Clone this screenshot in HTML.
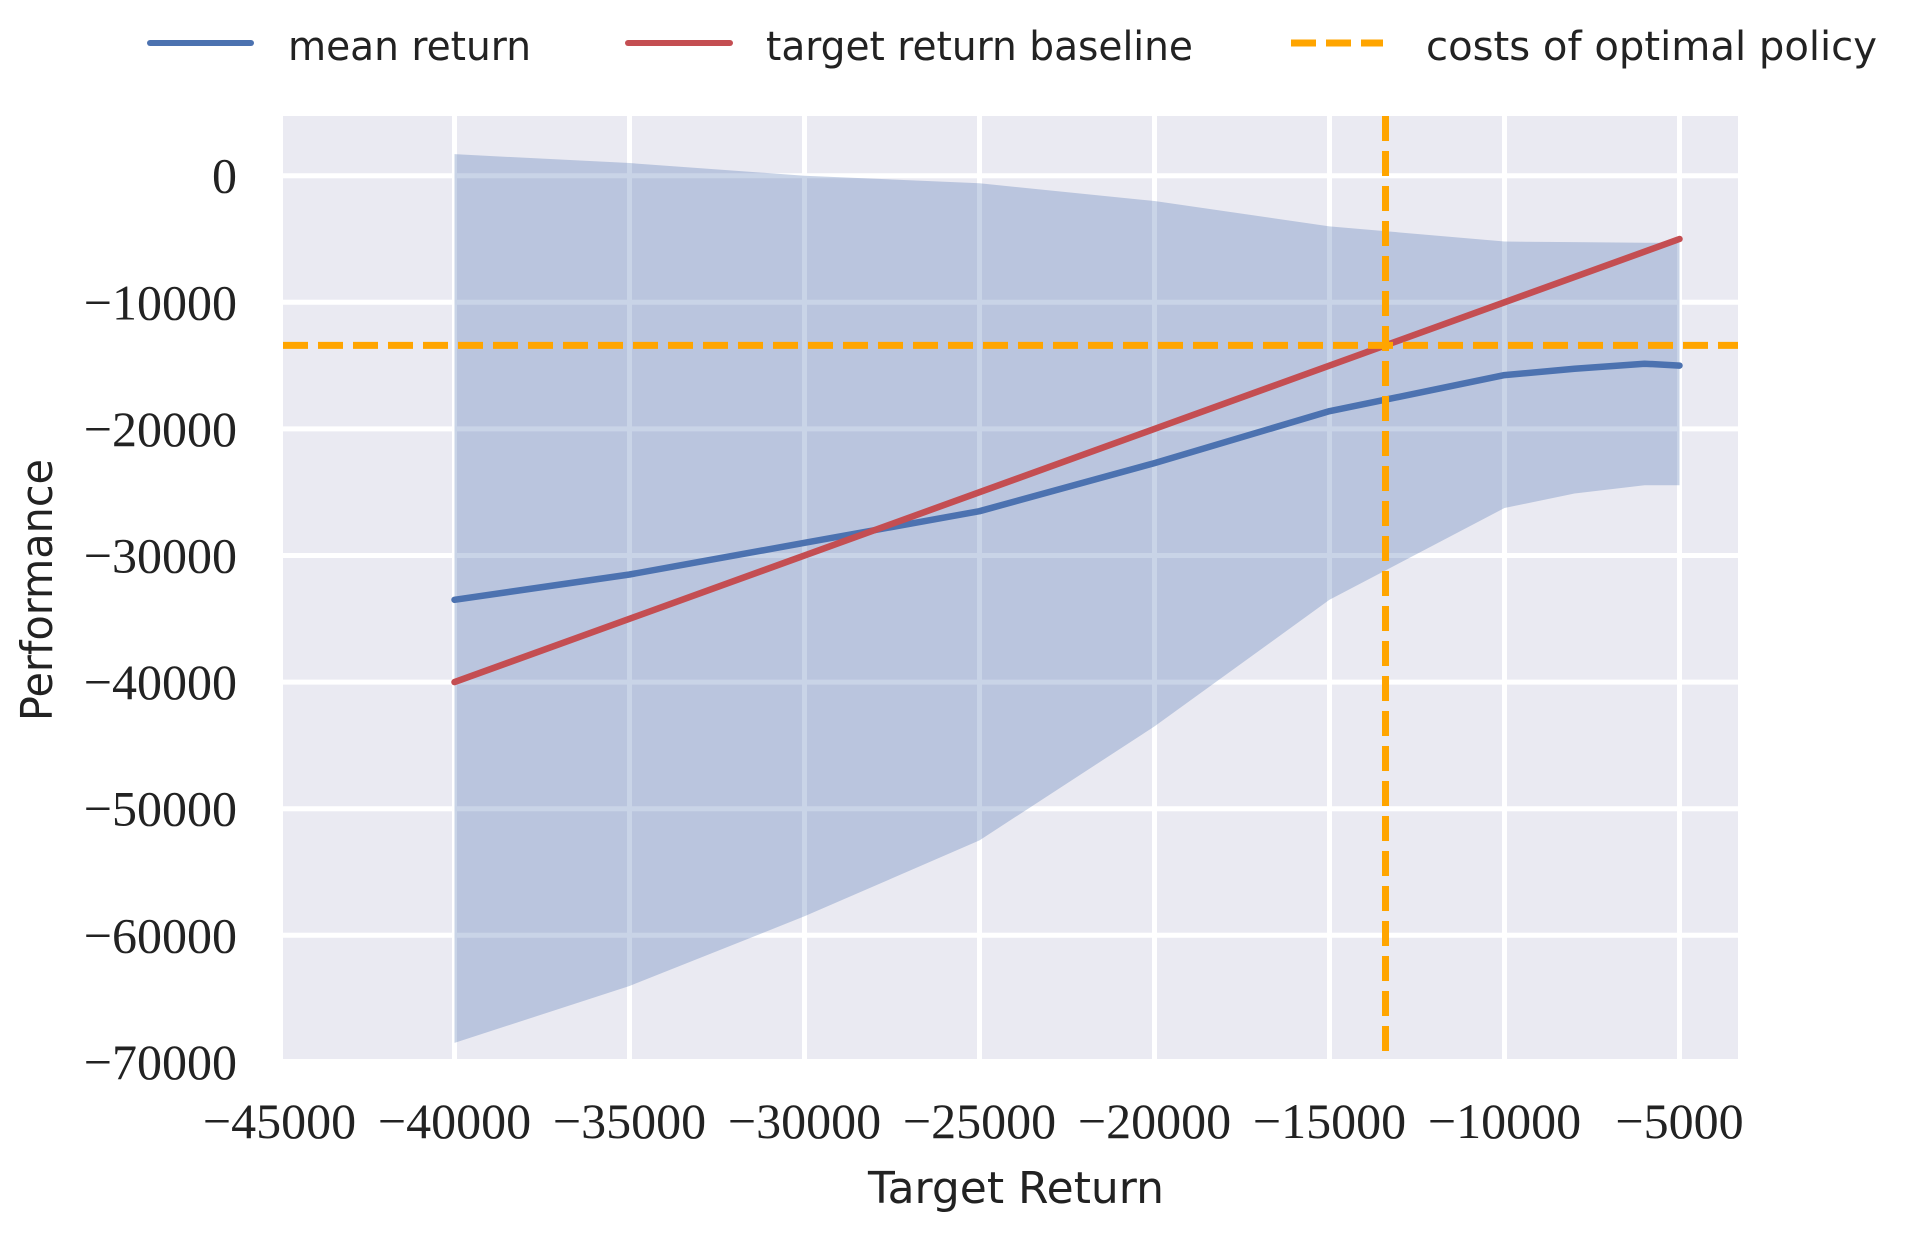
<!DOCTYPE html>
<html><head><meta charset="utf-8"><style>
html,body{margin:0;padding:0;background:#fff;}
svg{display:block;}
</style></head><body>
<svg id="chart" width="1905" height="1236" viewBox="0 0 1905 1236" xmlns="http://www.w3.org/2000/svg">
<g id="legend">
  <g>
    <line x1="150" y1="43" x2="251" y2="43" stroke="#4C72B0" stroke-width="6" stroke-linecap="round"/>
    <text x="288" y="60" font-family="'DejaVu Sans','Liberation Sans',sans-serif" font-size="40" fill="#222" textLength="243" lengthAdjust="spacingAndGlyphs">mean return</text>
  </g>
  <g>
    <line x1="628" y1="43" x2="730" y2="43" stroke="#C44E52" stroke-width="6" stroke-linecap="round"/>
    <text x="766" y="60" font-family="'DejaVu Sans','Liberation Sans',sans-serif" font-size="40" fill="#222" textLength="427" lengthAdjust="spacingAndGlyphs">target return baseline</text>
  </g>
  <g>
    <line x1="1291" y1="43" x2="1383" y2="43" stroke="#FFA500" stroke-width="7" stroke-dasharray="25,10"/>
    <text x="1426" y="60" font-family="'DejaVu Sans','Liberation Sans',sans-serif" font-size="40" fill="#222" textLength="451" lengthAdjust="spacingAndGlyphs">costs of optimal policy</text>
  </g>
</g>
<g id="plot"></g>
<text x="1016" y="1203" text-anchor="middle" font-family="'DejaVu Sans','Liberation Sans',sans-serif" font-size="44" fill="#222" textLength="296" lengthAdjust="spacingAndGlyphs">Target Return</text>
<text transform="translate(52,590) rotate(-90)" text-anchor="middle" font-family="'DejaVu Sans','Liberation Sans',sans-serif" font-size="44" fill="#222" textLength="262" lengthAdjust="spacingAndGlyphs">Performance</text>
</svg>
<script>
const xTicks = [-45000,-40000,-35000,-30000,-25000,-20000,-15000,-10000,-5000];
const yTicks = [0,-10000,-20000,-30000,-40000,-50000,-60000,-70000];
const targets = [-40000,-35000,-30000,-25000,-20000,-15000,-10000,-8000,-6000,-5000];
const meanReturn = [-33500,-31500,-29000,-26500,-22700,-18600,-15750,-15250,-14850,-15000];
const upperBand = [1700,1000,0,-600,-2000,-4000,-5200,-5250,-5300,-5300];
const lowerBand = [-68500,-64000,-58500,-52500,-43500,-33500,-26250,-25100,-24450,-24450];
const baselineX = [-40000,-5000];
const baselineY = [-40000,-5000];
const optimalCost = [-13400];

const L=283, R=1738, T=116, B=1059;
const x0=-40000, px0=454.5, pxPer=175/5000;
const y0=0, py0=175.7, pyPer=126.6/10000;
const sx = v => px0 + (v - x0)*pxPer;
const sy = v => py0 - (v - y0)*pyPer;
const NS="http://www.w3.org/2000/svg";
const plot=document.getElementById('plot');
function mk(tag, attrs, parent){const e=document.createElementNS(NS,tag);for(const k in attrs)e.setAttribute(k,attrs[k]);(parent||plot).appendChild(e);return e;}

const bg=mk('rect',{x:L,y:T,width:R-L,height:B-T,fill:'#EAEAF2'});



xTicks.forEach(v=>{
  const g=mk('line',{x1:sx(v),x2:sx(v),y1:T,y2:B,stroke:'#fff','stroke-width':5});
  
  
  const t=mk('text',{x:sx(v),y:1138,'text-anchor':'middle','font-family':"'Liberation Serif',serif",'font-size':50,fill:'#222'});
  
  
  t.textContent=(v<0?'\u2212':'')+Math.abs(v);
});
yTicks.forEach(v=>{
  const g=mk('line',{x1:L,x2:R,y1:sy(v),y2:sy(v),stroke:'#fff','stroke-width':5});
  
  
  const t=mk('text',{x:237,y:sy(v)+17,'text-anchor':'end','font-family':"'Liberation Serif',serif",'font-size':50,fill:'#222'});
  
  
  t.textContent=(v<0?'\u2212':'')+Math.abs(v);
});

let d='';
targets.forEach((v,i)=>{d+=(i?'L':'M')+sx(v)+','+sy(upperBand[i]);});
for(let i=targets.length-1;i>=0;i--)d+='L'+sx(targets[i])+','+sy(lowerBand[i]);
d+='Z';
const band=mk('path',{d:d,fill:'#4C72B0','fill-opacity':0.3});



let dm='';
targets.forEach((v,i)=>{dm+=(i?'L':'M')+sx(v)+','+sy(meanReturn[i]);});
const ml=mk('path',{d:dm,fill:'none',stroke:'#4C72B0','stroke-width':6.5,'stroke-linejoin':'round','stroke-linecap':'round'});



const bl=mk('line',{x1:sx(baselineX[0]),y1:sy(baselineY[0]),x2:sx(baselineX[1]),y2:sy(baselineY[1]),stroke:'#C44E52','stroke-width':6.5,'stroke-linecap':'round'});



const hl=mk('line',{x1:L,x2:R,y1:sy(optimalCost[0]),y2:sy(optimalCost[0]),stroke:'#FFA500','stroke-width':7,'stroke-dasharray':'25,10'});


const vl=mk('line',{x1:sx(optimalCost[0]),x2:sx(optimalCost[0]),y1:T,y2:B,stroke:'#FFA500','stroke-width':7,'stroke-dasharray':'25,10'});


</script>
</body></html>
